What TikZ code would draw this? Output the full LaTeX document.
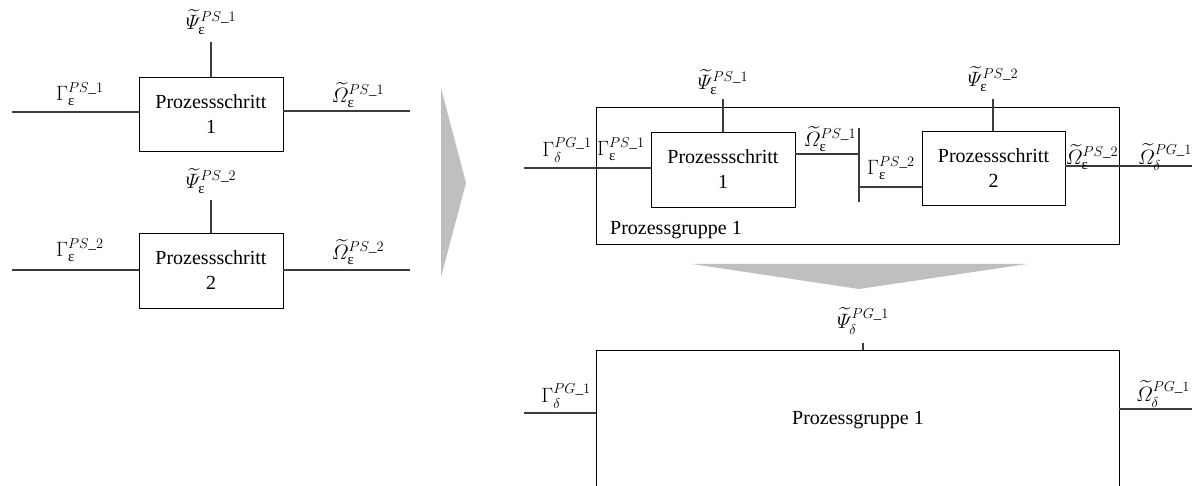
\documentclass[tikz,border=0pt]{standalone}
\usepackage{amsmath}
\usepackage{fontspec}
\setmainfont{Liberation Serif}
\definecolor{chevgray}{RGB}{191,191,191}
\definecolor{wiregray}{RGB}{60,60,60}
% larger script sizes for the interface labels
\DeclareMathSizes{20}{20}{15}{11}
% symbols for the interface labels
\newcommand{\Eps}{\text{ε}}
\newcommand{\GamS}[1]{\Gamma_{\Eps}^{PS\_#1}}
\newcommand{\PsiS}[1]{\widetilde{\varPsi}_{\Eps}^{PS\_#1}}
\newcommand{\OmS}[1]{\widetilde{\varOmega}_{\Eps}^{PS\_#1}}
\newcommand{\GamG}[1]{\Gamma_{\delta}^{PG\_#1}}
\newcommand{\PsiG}[1]{\widetilde{\varPsi}_{\delta}^{PG\_#1}}
\newcommand{\OmG}[1]{\widetilde{\varOmega}_{\delta}^{PG\_#1}}
\begin{document}
\begin{tikzpicture}[x=1pt,y=-1pt,
  box/.style={draw=black, line width=0.9pt, inner sep=0pt, align=center,
              font=\fontsize{20}{25}\selectfont},
  frame/.style={draw=black, line width=0.9pt, inner sep=0pt},
  wire/.style={draw=wiregray, line width=1.2pt},
  lbl/.style={inner sep=0pt, font=\fontsize{20}{22}\selectfont},
  txt/.style={inner sep=0pt, font=\fontsize{20}{24}\selectfont},
  chev/.style={fill=chevgray, draw=none}]
\useasboundingbox (0,0) rectangle (1192,486);
\fill[white] (0,0) rectangle (1192,486);
\clip (0,0) rectangle (1192,486);

% ---------- single process steps ----------
\node[box, minimum width=144pt, minimum height=74pt] (s1) at (211,114) {Prozessschritt\\1};
\node[box, minimum width=144pt, minimum height=75pt] (s2) at (211,270.5) {Prozessschritt\\2};

\coordinate (s1t) at (211,42);
\coordinate (s1l) at (12,112);
\coordinate (s1r) at (410,111);
\draw[wire] (s1t) -- (s1t |- s1.north);
\draw[wire] (s1l) -- (s1l -| s1.west);
\draw[wire] (s1r -| s1.east) -- (s1r);

\coordinate (s2t) at (211,200);
\coordinate (s2l) at (12,270);
\coordinate (s2r) at (410,270);
\draw[wire] (s2t) -- (s2t |- s2.north);
\draw[wire] (s2l) -- (s2l -| s2.west);
\draw[wire] (s2r -| s2.east) -- (s2r);

\node[lbl] (ls1t) at (211,22) {$\PsiS{1}$};
\node[lbl] (ls1l) at (80,94) {$\GamS{1}$};
\node[lbl] (ls1r) at (358,95) {$\OmS{1}$};
\node[lbl] (ls2t) at (211,181) {$\PsiS{2}$};
\node[lbl] (ls2l) at (80,250) {$\GamS{2}$};
\node[lbl] (ls2r) at (358,252) {$\OmS{2}$};

% ---------- arrows between the stages ----------
\fill[chev] (441,88) -- (466,183) -- (441,277) -- cycle;
\fill[chev] (692,264) -- (1027,264) -- (859,289) -- cycle;

% ---------- process group, expanded ----------
\node[frame, minimum width=523pt, minimum height=137pt] (g) at (857.5,175.5) {};
\node[txt] (gname) at (676,230) {Prozessgruppe 1};
\node[box, minimum width=144pt, minimum height=75pt] (p1) at (723,169.5) {Prozessschritt\\1};
\node[box, minimum width=143pt, minimum height=74pt] (p2) at (993.5,168) {Prozessschritt\\2};

\coordinate (gin) at (524,168);
\coordinate (p1t) at (723,99);
\coordinate (bart) at (859,128);
\coordinate (barb) at (859,202);
\coordinate (o1) at (859,154);
\coordinate (i2) at (859,187);
\coordinate (p2t) at (993,99);
\coordinate (gout) at (1192,166);

\draw[wire] (gin) -- (gin -| p1.west);
\draw[wire] (p1t) -- (p1t |- p1.north);
\draw[wire] (bart) -- (barb);
\draw[wire] (o1 -| p1.east) -- (o1);
\draw[wire] (i2) -- (i2 -| p2.west);
\draw[wire] (p2t) -- (p2t |- p2.north);
\draw[wire] (gout -| p2.east) -- (gout);

\node[lbl] (lgin) at (567,150) {$\GamG{1}$};
\node[lbl] (lp1l) at (621,149) {$\GamS{1}$};
\node[lbl] (lp1t) at (723,82) {$\PsiS{1}$};
\node[lbl] (lp1r) at (830,139) {$\OmS{1}$};
\node[lbl] (lp2l) at (891,168) {$\GamS{2}$};
\node[lbl] (lp2t) at (993,79) {$\PsiS{2}$};
\node[lbl] (lp2r) at (1092,157) {$\OmS{2}$};
\node[lbl] (lgout) at (1165,157) {$\OmG{1}$};

% ---------- process group, collapsed ----------
\node[box, minimum width=523pt, minimum height=170pt] (pg) at (857.5,435) {};
\node[txt] (pgname) at (858,420) {Prozessgruppe 1};

\coordinate (bt) at (863,343);
\coordinate (bin) at (524,413);
\coordinate (bout) at (1192,409);
\draw[wire] (bt) -- (bt |- pg.north);
\draw[wire] (bin) -- (bin -| pg.west);
\draw[wire] (bout -| pg.east) -- (bout);

\node[lbl] (lbt) at (863,321) {$\PsiG{1}$};
\node[lbl] (lbin) at (566,396) {$\GamG{1}$};
\node[lbl] (lbout) at (1163,394) {$\OmG{1}$};
\end{tikzpicture}
\end{document}
